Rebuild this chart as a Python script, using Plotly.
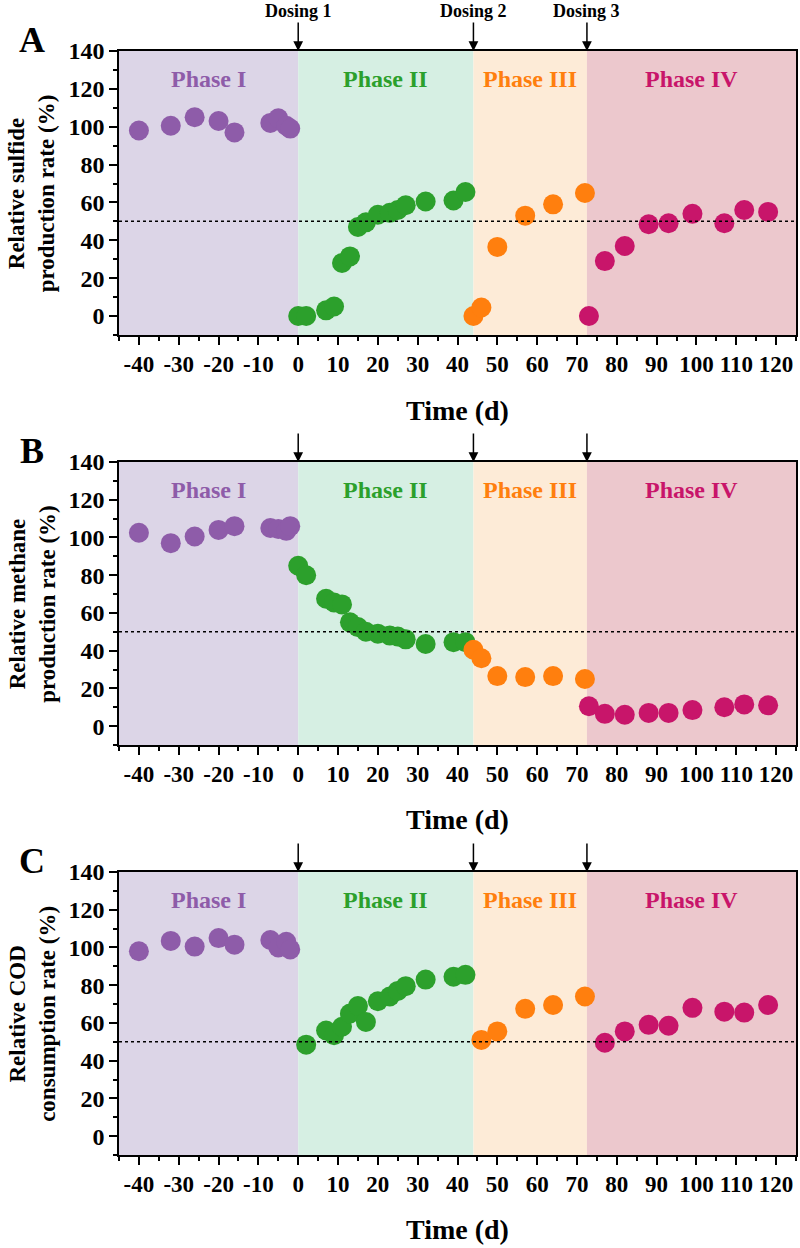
import plotly.graph_objects as go
from plotly.subplots import make_subplots

# sampling days in each phase
days_p1 = [-40, -32, -26, -20, -16, -7, -5, -3, -2]
days_p2 = [0, 2, 7, 9, 11, 13, 15, 17, 20, 23, 25, 27, 32, 39, 42]
days_p3 = [44, 46, 50, 57, 64, 72]
days_p4 = [73, 77, 82, 88, 93, 99, 107, 112, 118]

# A: relative sulfide production rate (%)
sulfide_p1 = [98, 100.5, 105, 103, 97, 102, 104.5, 100.5, 99]
sulfide_p2 = [0, 0, 3, 5, 28, 31.5, 47, 49.5, 53.5, 54.5, 56, 58.5, 60.5, 61, 65.5]
sulfide_p3 = [0, 4.5, 36.5, 53, 59, 65]
sulfide_p4 = [0, 29, 37, 48.5, 49, 54, 49, 56, 55]

# B: relative methane production rate (%)
methane_p1 = [102.5, 97, 100.5, 104, 106, 105, 104.5, 103.5, 106]
methane_p2 = [85, 80, 67.5, 65.5, 64.5, 55, 52.5, 50, 49, 48, 47.5, 46, 43.5, 44.5, 44.5]
methane_p3 = [40.5, 36, 26.5, 26, 26.5, 25]
methane_p4 = [10.5, 6.5, 6, 7, 7, 8.5, 10, 11.5, 11]

# C: relative COD consumption rate (%)
cod_p1 = [98, 103.5, 100.5, 105, 101.5, 104, 100, 103, 99]
cod_p2 = [None, 48.5, 56, 53.5, 58, 65, 69, 60.5, 71.5, 74, 77, 79.5, 83, 84.5, 85.5]
cod_p3 = [None, 51, 55.5, 67.5, 69.5, 74]
cod_p4 = [None, 49.5, 55.5, 59, 58.5, 68, 66, 65.5, 69.5]

x_ticks = list(range(-40, 121, 10))
y_ticks = list(range(0, 141, 20))

phase_names = ["Phase I", "Phase II", "Phase III", "Phase IV"]
phase_edges = [-45, 0, 44, 72.5, 125]
dosing_days = [0, 44, 72.5]
dosing_labels = ["Dosing 1", "Dosing 2", "Dosing 3"]

point_colors = ["#8E5CA9", "#2CA02C", "#FF7F0E", "#C8156A"]
band_colors = ["#DCD5E7", "#D6EFE3", "#FDEBD7", "#ECC8CD"]

panels = [
    ("A", "Relative sulfide<br>production rate (%)", [sulfide_p1, sulfide_p2, sulfide_p3, sulfide_p4]),
    ("B", "Relative methane<br>production rate (%)", [methane_p1, methane_p2, methane_p3, methane_p4]),
    ("C", "Relative COD<br>consumption rate (%)", [cod_p1, cod_p2, cod_p3, cod_p4]),
]
all_days = [days_p1, days_p2, days_p3, days_p4]

FONT = "Liberation Serif"

fig = make_subplots(rows=3, cols=1)

# domaines verticaux des trois panneaux (en fraction de la zone de tracé)
domains = [[0.7428, 1.0], [0.3714, 0.6277], [0.0, 0.2563]]

shapes = []
annotations = []

for i, (letter, ytitle, series) in enumerate(panels):
    row = i + 1
    xref = "x" if row == 1 else f"x{row}"
    yref = "y" if row == 1 else f"y{row}"

    for k in range(4):
        fig.add_trace(go.Scatter(
            x=all_days[k], y=series[k],
            mode="markers",
            marker=dict(color=point_colors[k], size=20, line=dict(width=0)),
            showlegend=False,
        ), row=row, col=1)

        # bandes de couleur des phases
        shapes.append(dict(
            type="rect", xref=xref, yref=f"{yref} domain",
            x0=phase_edges[k], x1=phase_edges[k + 1], y0=0, y1=1,
            fillcolor=band_colors[k], line=dict(width=0), layer="below",
        ))
        annotations.append(dict(
            text=f"<b>{phase_names[k]}</b>",
            x=(phase_edges[k] + phase_edges[k + 1]) / 2, y=125,
            xref=xref, yref=yref, showarrow=False,
            xanchor="center", yanchor="middle",
            font=dict(family=FONT, size=24, color=point_colors[k]),
        ))

    # ligne pointillée à 50 %
    shapes.append(dict(
        type="line", xref=f"{xref} domain", yref=yref,
        x0=0, x1=1, y0=50, y1=50,
        line=dict(color="black", width=1.5, dash="dot"),
    ))

    # flèches de dosage
    for d, lab in zip(dosing_days, dosing_labels):
        annotations.append(dict(
            text=f"<b>{lab}</b>" if row == 1 else "",
            x=d, y=1, xref=xref, yref=f"{yref} domain",
            showarrow=True, arrowhead=2, arrowsize=1.3, arrowwidth=1.5,
            arrowcolor="black", ax=0, ay=-40 if row == 1 else -30,
            font=dict(family=FONT, size=18, color="black"),
        ))

    # lettre du panneau
    annotations.append(dict(
        text=f"<b>{letter}</b>", x=-0.128, y=1.04,
        xref=f"{xref} domain", yref=f"{yref} domain",
        xanchor="center", yanchor="middle",
        showarrow=False, font=dict(family=FONT, size=36, color="black"),
    ))
    # titre de l'axe Y
    annotations.append(dict(
        text=f"<b>{ytitle}</b>", x=-0.128, y=0.5, textangle=-90,
        xref=f"{xref} domain", yref=f"{yref} domain",
        xanchor="center", yanchor="middle",
        showarrow=False, font=dict(family=FONT, size=23, color="black"),
    ))
    # titre de l'axe X
    annotations.append(dict(
        text="<b>Time (d)</b>", x=0.5, y=-0.265,
        xref=f"{xref} domain", yref=f"{yref} domain",
        xanchor="center", yanchor="middle",
        showarrow=False, font=dict(family=FONT, size=28, color="black"),
    ))

    fig.update_xaxes(
        range=[-45, 125], tickvals=x_ticks, ticktext=[str(v) for v in x_ticks],
        ticks="outside", ticklen=8, tickwidth=1.5, tickcolor="black",
        minor=dict(dtick=5, tick0=0, ticks="outside", ticklen=4, tickwidth=1.5, tickcolor="black"),
        showline=True, linecolor="black", linewidth=1.5, mirror=True,
        showgrid=False, zeroline=False, automargin=False,
        tickfont=dict(family=FONT, size=23, color="black", weight="bold"),
        row=row, col=1,
    )
    fig.update_yaxes(
        range=[-10, 140], tickvals=y_ticks, domain=domains[i],
        ticks="outside", ticklen=8, tickwidth=1.5, tickcolor="black",
        minor=dict(dtick=10, tick0=0, ticks="outside", ticklen=4, tickwidth=1.5, tickcolor="black"),
        showline=True, linecolor="black", linewidth=1.5, mirror=True,
        showgrid=False, zeroline=False, automargin=False,
        tickfont=dict(family=FONT, size=24, color="black", weight="bold"),
        row=row, col=1,
    )

fig.update_layout(
    width=800, height=1248,
    margin=dict(l=119, r=4, t=51, b=93),
    paper_bgcolor="white", plot_bgcolor="white",
    font=dict(family=FONT),
    shapes=shapes,
    annotations=annotations,
)

# pas de marge du <body> pour que la figure remplisse la fenêtre, pas de barre d'outils
fig.write_html(
    "out.html",
    config={"displayModeBar": False},
    post_script="document.body.style.margin='0px';",
)
